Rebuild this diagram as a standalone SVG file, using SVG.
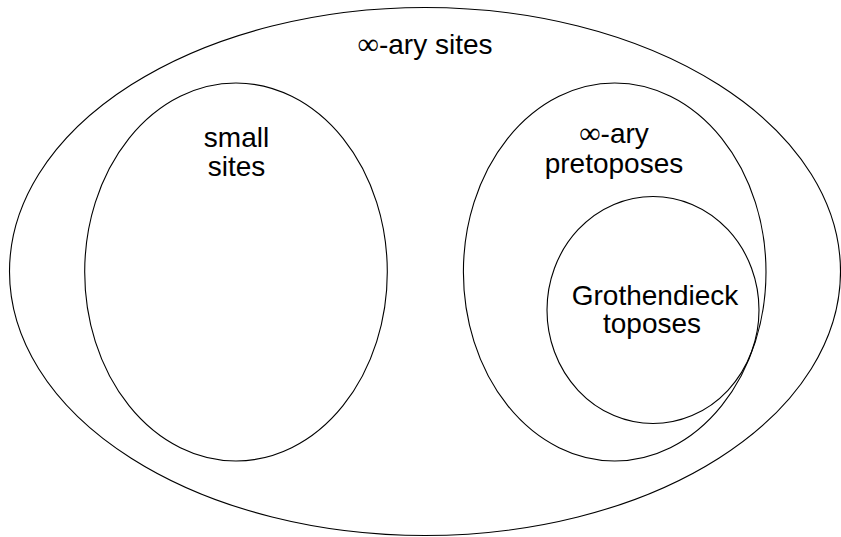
<svg xmlns="http://www.w3.org/2000/svg" width="841" height="537" viewBox="0 0 841 537">
<style>
.s{fill:none;stroke:#000;stroke-width:1.1}
.t{font-family:"Liberation Sans",Arial,sans-serif;font-size:28px;fill:#000;text-anchor:middle}
.inf{font-family:"DejaVu Sans","Liberation Serif",serif;font-size:30px;font-weight:200}
</style>
<rect width="841" height="537" fill="#fff"/>
<g id="infinitary-sites">
<ellipse class="s" cx="425" cy="271.5" rx="415.5" ry="264"/>
<text class="t" x="425" y="54"><tspan class="inf">∞</tspan>-ary sites</text>
</g>
<g id="small-sites">
<ellipse class="s" cx="236" cy="272" rx="151.3" ry="189"/>
<text class="t" x="236.5" y="147">small</text>
<text class="t" x="236.5" y="176">sites</text>
</g>
<g id="pretoposes">
<ellipse class="s" cx="614.7" cy="272" rx="151.3" ry="189"/>
<text class="t" x="614" y="143"><tspan class="inf">∞</tspan>-ary</text>
<text class="t" x="614" y="173">pretoposes</text>
</g>
<g id="grothendieck-toposes">
<ellipse class="s" cx="653" cy="310" rx="106" ry="113.5"/>
<text class="t" x="655" y="305">Grothendieck</text>
<text class="t" x="652" y="333">toposes</text>
</g>
<g id="connectors"></g>
</svg>
